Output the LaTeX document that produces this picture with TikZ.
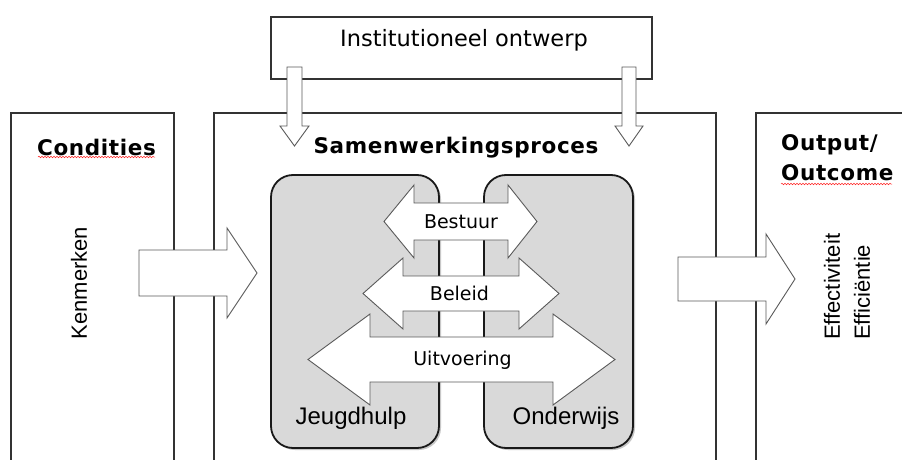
\documentclass[tikz,border=0pt]{standalone}
\usepackage{fontspec}
\newfontfamily\verdf{DejaVu Sans}
\newfontfamily\verdsp[LetterSpace=3]{DejaVu Sans}
\newfontfamily\arialf{Liberation Sans}
\usetikzlibrary{decorations.pathmorphing}
\definecolor{boxgray}{HTML}{D9D9D9}
\definecolor{arrowline}{HTML}{5A5A5A}
\begin{document}
\begin{tikzpicture}[x=1pt,y=-1pt,
  bigbox/.style={draw=black!80, line width=1.1pt, fill=none, inner sep=0pt},
  roundbox/.style={draw=black!90, line width=1.8pt, fill=boxgray, rounded corners=22pt, inner sep=0pt},
  shadowbox/.style={fill=black!22, rounded corners=22pt},
  blockarrow/.style={draw=arrowline, fill=white, line width=0.9pt, line join=miter},
  titletext/.style={font=\verdsp\bfseries\fontsize{21.5}{28}\selectfont, inner sep=0pt, text=black},
  verdtext/.style={font=\verdf\fontsize{19}{22}\selectfont, inner sep=0pt},
  insttext/.style={font=\verdf\fontsize{22.5}{24}\selectfont, inner sep=0pt},
  arialtext/.style={font=\arialf\fontsize{24}{28}\selectfont, inner sep=0pt},
  sidetext/.style={font=\arialf\fontsize{22}{30}\selectfont, inner sep=0pt, rotate=90},
  wavy/.style={draw=red!85, line width=0.5pt, decorate, decoration={snake, amplitude=0.8pt, segment length=3pt}}
]
\useasboundingbox (0,0) rectangle (902,460);
\clip (0,0) rectangle (902,460);
\fill[white] (0,0) rectangle (902,460);

% large frames (open at the bottom, cut off by the page)
\node[bigbox, minimum width=163pt, minimum height=367pt] (condbox) at (92.5,296.5) {};
\node[bigbox, minimum width=502pt, minimum height=367pt] (procbox) at (465,296.5) {};
\node[bigbox, minimum width=200pt, minimum height=367pt] (outbox) at (856,296.5) {};
\node[bigbox, minimum width=381pt, minimum height=62pt] (instbox) at (461.5,48) {};

% titles
\node[insttext] (inst) at (464,40) {Institutioneel ontwerp};
\node[titletext] (cond) at (96.5,147) {Condities};
\node[titletext] (proc) at (456,148) {Samenwerkingsproces};
\node[titletext, anchor=west] (outp) at (781,145) {Output/};
\node[titletext, anchor=west] (outc) at (781,173) {Outcome};

\coordinate (w1a) at (38,157);
\coordinate (w1b) at (155,157);
\coordinate (w2a) at (781,184);
\coordinate (w2b) at (892,184);
\draw[wavy] (w1a) -- (w1b);
\draw[wavy] (w2a) -- (w2b);

% side texts
\node[sidetext] (kenm) at (79,283) {Kenmerken};
\node[sidetext, anchor=west, align=left] (eff) at (847,340) {Effectiviteit\\Efficiëntie};

% shadows of the rounded boxes
\fill[shadowbox] (273,177) rectangle (441,450);
\fill[shadowbox] (486,177) rectangle (635,450);

% rounded boxes
\node[roundbox, minimum width=168pt, minimum height=273pt] (jeugdbox) at (355,311.5) {};
\node[roundbox, minimum width=149pt, minimum height=273pt] (ondbox) at (558.5,311.5) {};
\node[arialtext] (jeugd) at (351,418) {Jeugdhulp};
\node[arialtext] (ond) at (566,418) {Onderwijs};

% block arrows from Institutioneel ontwerp
\draw[blockarrow] (287,67) -- (302,67) -- (302,126) -- (309,126) -- (294.5,146) -- (280,126) -- (287,126) -- cycle;
\draw[blockarrow] (622,67) -- (636,67) -- (636,126) -- (643,126) -- (629,146) -- (615,126) -- (622,126) -- cycle;

% block arrows left and right
\draw[blockarrow] (139,250) -- (227,250) -- (227,228) -- (257,273) -- (227,318) -- (227,296) -- (139,296) -- cycle;
\draw[blockarrow] (678,257) -- (766,257) -- (766,234) -- (795,279) -- (766,324) -- (766,301) -- (678,301) -- cycle;

% double arrows
\draw[blockarrow] (384,221.5) -- (414,185) -- (414,203) -- (508,203) -- (508,185) -- (537,221.5) -- (508,258) -- (508,240) -- (414,240) -- (414,258) -- cycle;
\draw[blockarrow] (363,293.5) -- (403,258) -- (403,276) -- (519,276) -- (519,258) -- (559,293.5) -- (519,329) -- (519,311) -- (403,311) -- (403,329) -- cycle;
\draw[blockarrow] (308,359.5) -- (370,314) -- (370,337) -- (553,337) -- (553,314) -- (615,359.5) -- (553,405) -- (553,382) -- (370,382) -- (370,405) -- cycle;

\node[verdtext] (best) at (461,222) {Bestuur};
\node[verdtext] (bel) at (459.5,293) {Beleid};
\node[verdtext] (uitv) at (462.5,360) {Uitvoering};
\end{tikzpicture}
\end{document}
